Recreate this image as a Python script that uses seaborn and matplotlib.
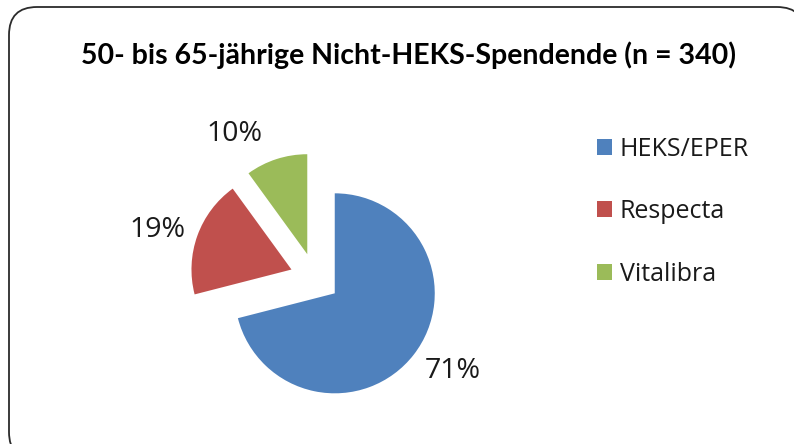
import matplotlib
matplotlib.use("Agg")
import matplotlib.pyplot as plt
import seaborn as sns
from matplotlib.patches import FancyBboxPatch

# data
labels = ["HEKS/EPER", "Respecta", "Vitalibra"]
shares = [71, 19, 10]
colors = ["#4F81BD", "#C0504D", "#9BBB59"]
title = "50- bis 65-jährige Nicht-HEKS-Spendende (n = 340)"

sns.set_theme(style="white")
plt.rcParams["font.family"] = ["Lato", "DejaVu Sans"]
body_font = ["Open Sans", "DejaVu Sans"]

fig = plt.figure(figsize=(7.94, 4.44), dpi=100)

# rounded frame round the chart area (runs off the right and bottom edge)
frame = FancyBboxPatch((0.09, -0.16), 7.96, 4.53, boxstyle="round,pad=0,rounding_size=0.28",
                       transform=fig.dpi_scale_trans, facecolor="white", edgecolor="#2b2b2b",
                       linewidth=1.3, zorder=-5)
fig.patches.append(frame)

fig.text(0.515, 0.876, title, ha="center", va="center", fontsize=20.5, fontweight="bold",
         color="black")

ax = fig.add_axes([165 / 794, 16 / 444, 300 / 794, 300 / 444])
ax.set_zorder(2)
ax.patch.set_alpha(0)
wedges, _, autotexts = ax.pie(shares, colors=colors, startangle=90, counterclock=False,
                              explode=[0.25, 0.25, 0.25], radius=1.0,
                              autopct="%1.0f%%", pctdistance=1.4,
                              wedgeprops=dict(linewidth=0))
for t in autotexts:
    t.set_fontsize(20.5)
    t.set_family(body_font)
    t.set_color("#1a1a1a")
# Excel's best-fit placement of the labels
x, y = autotexts[0].get_position()
autotexts[0].set_position((x + 0.07, y + 0.08))
x, y = autotexts[1].get_position()
autotexts[1].set_position((x - 0.02, y - 0.08))
x, y = autotexts[2].get_position()
autotexts[2].set_position((x - 0.3, y - 0.13))
ax.set_xlim(-1.5, 1.5)
ax.set_ylim(-1.5, 1.5)
ax.set_aspect("equal")
ax.axis("off")

leg = fig.legend(wedges, labels, loc="upper left", bbox_to_anchor=(584 / 794, 1 - 124 / 444),
                 frameon=False, prop=dict(family=body_font, size=18),
                 handlelength=0.62, handleheight=0.62,
                 handletextpad=0.3, labelspacing=1.5, borderpad=0)
leg.set_zorder(3)
for txt in leg.get_texts():
    txt.set_color("#1a1a1a")

fig.savefig("out.png", dpi=100, facecolor="white")
